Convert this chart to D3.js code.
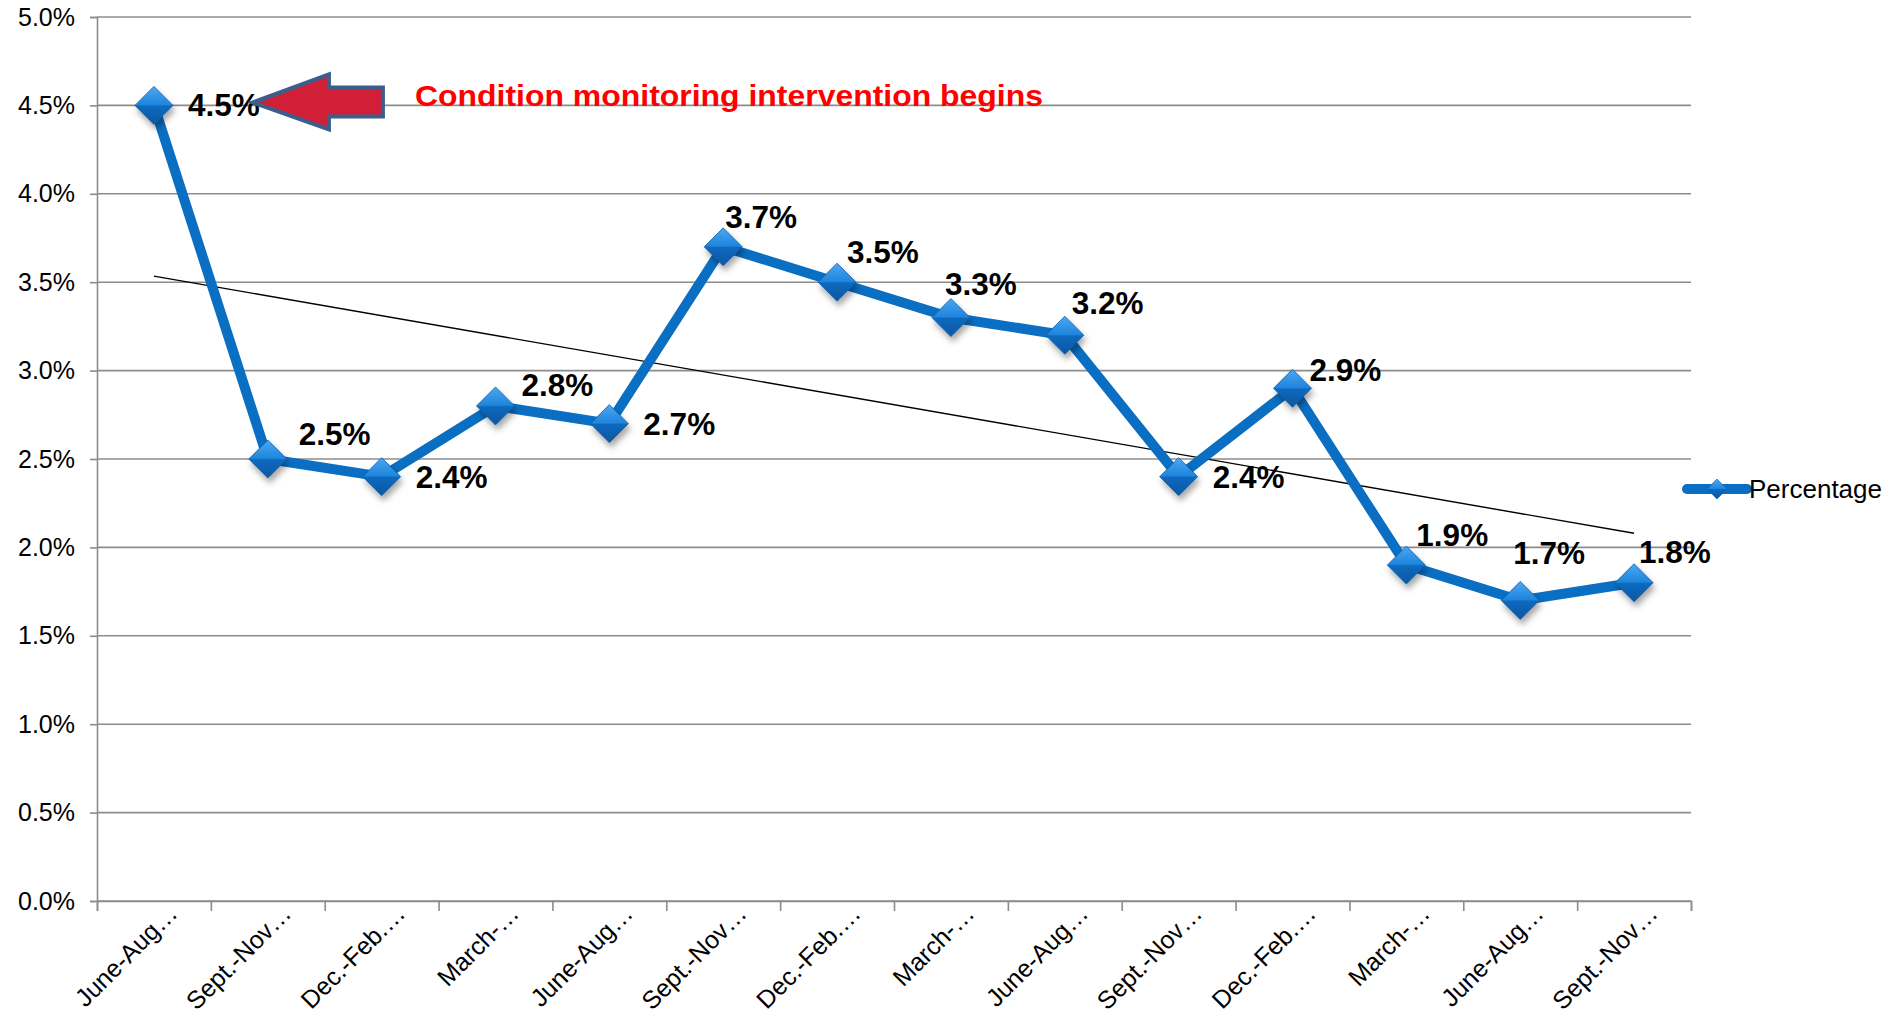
<!DOCTYPE html>
<html>
<head>
<meta charset="utf-8">
<script src="https://cdn.jsdelivr.net/npm/d3@7/dist/d3.min.js"></script>
<style>
  html, body { margin: 0; padding: 0; background: #fff; }
  svg { display: block; }
  text { font-family: "Liberation Sans", Arial, sans-serif; }
</style>
</head>
<body>
<svg id="chart" width="1889" height="1017"></svg>
<script>
// ---------- data ----------
const categories = [
  "June-Aug…", "Sept.-Nov…", "Dec.-Feb.…", "March-…",
  "June-Aug…", "Sept.-Nov…", "Dec.-Feb.…", "March-…",
  "June-Aug…", "Sept.-Nov…", "Dec.-Feb.…", "March-…",
  "June-Aug…", "Sept.-Nov…"
];
const percentage = [4.5, 2.5, 2.4, 2.8, 2.7, 3.7, 3.5, 3.3, 3.2, 2.4, 2.9, 1.9, 1.7, 1.8];
const yTicks = [0, 0.5, 1.0, 1.5, 2.0, 2.5, 3.0, 3.5, 4.0, 4.5, 5.0];
const seriesName = "Percentage";
const annotationText = "Condition monitoring intervention begins";
const annotationValue = 4.5;

// label nudges (layout only, in px): [dx, dy] from the point
const labelNudge = [
  [34, 11], [31, -14], [34, 11], [26, -10], [34, 11], [2, -19], [10, -19],
  [-6, -23], [7, -21], [34, 11], [17, -7], [10, -19], [-7, -36], [5, -20]
];

// ---------- layout ----------
const svg = d3.select("#chart");
const plot = { left: 97, right: 1691, top: 17, bottom: 901 };
const gridColor = "#8c8c8c";
const lineColor = "#0a6fc2";

const xEdge = d3.scaleLinear().domain([0, categories.length]).range([plot.left, plot.right]);
const xBand = d3.scaleBand().domain(d3.range(categories.length)).range([plot.left, plot.right]);
const xc = i => xBand(i) + xBand.bandwidth() / 2;
const y = d3.scaleLinear().domain([0, 5]).range([plot.bottom, plot.top]);

// defs: gradient + shadow
const defs = svg.append("defs");
const grad = defs.append("linearGradient").attr("id", "dgrad")
  .attr("x1", "0").attr("y1", "0").attr("x2", "0").attr("y2", "1");
grad.append("stop").attr("offset", "0%").attr("stop-color", "#4ba8f2");
grad.append("stop").attr("offset", "48%").attr("stop-color", "#1f85dc");
grad.append("stop").attr("offset", "52%").attr("stop-color", "#0b69bf");
grad.append("stop").attr("offset", "100%").attr("stop-color", "#0a57a0");
const sh = defs.append("filter").attr("id", "shadow")
  .attr("x", "-50%").attr("y", "-50%").attr("width", "200%").attr("height", "200%");
sh.append("feDropShadow").attr("dx", 2).attr("dy", 5).attr("stdDeviation", 3)
  .attr("flood-color", "#000").attr("flood-opacity", 0.35);

// gridlines
svg.append("g").selectAll("line").data(yTicks).join("line")
  .attr("x1", plot.left).attr("x2", plot.right)
  .attr("y1", d => y(d)).attr("y2", d => y(d))
  .attr("stroke", gridColor).attr("stroke-width", 1.6);

// y axis
const yAxis = svg.append("g").attr("transform", `translate(${plot.left},0)`)
  .call(d3.axisLeft(y).tickValues(yTicks).tickSize(7).tickPadding(15)
    .tickFormat(d => d.toFixed(1) + "%"));
yAxis.select(".domain").attr("stroke", gridColor).attr("stroke-width", 1.6);
yAxis.selectAll(".tick line").attr("stroke", gridColor).attr("stroke-width", 1.6);
yAxis.selectAll(".tick text").attr("font-size", 25).attr("fill", "#000")
  .attr("font-family", "Liberation Sans, Arial, sans-serif");

// x axis ticks at category edges
const xAxis = svg.append("g").attr("transform", `translate(0,${plot.bottom})`)
  .call(d3.axisBottom(xEdge).tickValues(d3.range(categories.length + 1)).tickSize(10).tickFormat(""));
xAxis.select(".domain").attr("stroke", gridColor).attr("stroke-width", 1.6);
xAxis.selectAll(".tick line").attr("stroke", gridColor).attr("stroke-width", 1.6);

// x labels (rotated)
const xLab = svg.append("g").attr("transform", `translate(0,${plot.bottom})`)
  .call(d3.axisBottom(xBand).tickSize(0).tickFormat(i => categories[i]));
xLab.select(".domain").remove();
xLab.selectAll(".tick text")
  .attr("font-size", 25).attr("fill", "#000")
  .attr("font-family", "Liberation Sans, Arial, sans-serif")
  .attr("text-anchor", "end")
  .attr("dy", null).attr("y", null)
  .attr("transform", "translate(25,14) rotate(-45)");

// trendline (linear least squares of the series)
const n = percentage.length;
const xs = d3.range(1, n + 1);
const mx = d3.mean(xs), my = d3.mean(percentage);
const slope = d3.sum(xs, (xv, i) => (xv - mx) * (percentage[i] - my)) / d3.sum(xs, xv => (xv - mx) ** 2);
const icpt = my - slope * mx;
svg.append("line")
  .attr("x1", xc(0)).attr("y1", y(icpt + slope * 1))
  .attr("x2", xc(n - 1)).attr("y2", y(icpt + slope * n))
  .attr("stroke", "#000").attr("stroke-width", 1.4);

// series line
svg.append("path").datum(percentage)
  .attr("d", d3.line().x((d, i) => xc(i)).y(d => y(d)))
  .attr("fill", "none").attr("stroke", lineColor).attr("stroke-width", 10)
  .attr("stroke-linejoin", "round");

// markers
const dsize = 19;
const diamond = (cx, cy, s) => `M${cx},${cy - s}L${cx + s},${cy}L${cx},${cy + s}L${cx - s},${cy}Z`;
svg.append("g").selectAll("path").data(percentage).join("path")
  .attr("d", (d, i) => diamond(xc(i), y(d), dsize))
  .attr("fill", "url(#dgrad)").attr("stroke", "#0a5aa8").attr("stroke-width", 0.8)
  .attr("filter", "url(#shadow)");

// data labels
svg.append("g").selectAll("text").data(percentage).join("text")
  .attr("x", (d, i) => xc(i) + labelNudge[i][0])
  .attr("y", (d, i) => y(d) + labelNudge[i][1])
  .attr("font-size", 31.5).attr("font-weight", "bold").attr("fill", "#000")
  .text(d => d.toFixed(1) + "%");

// annotation arrow (block arrow pointing left)
const ay = y(annotationValue) - 3;
const tipX = xc(0) + 99;
const arrowPts = [
  [tipX, ay], [tipX + 76, ay - 28], [tipX + 76, ay - 15], [tipX + 130, ay - 15],
  [tipX + 130, ay + 14], [tipX + 76, ay + 14], [tipX + 76, ay + 27]
];
svg.append("polygon")
  .attr("points", arrowPts.map(p => p.join(",")).join(" "))
  .attr("fill", "#d21f38").attr("stroke", "#3b5e8c").attr("stroke-width", 4)
  .attr("stroke-linejoin", "miter");

svg.append("text")
  .attr("x", 415).attr("y", y(annotationValue) + 1)
  .attr("font-size", 30).attr("font-weight", "bold").attr("fill", "#ff0000")
  .attr("textLength", 628).attr("lengthAdjust", "spacingAndGlyphs")
  .text(annotationText);

// legend
const lg = svg.append("g").attr("transform", "translate(1687,489)");
lg.append("line").attr("x1", 0).attr("x2", 60).attr("y1", 0).attr("y2", 0)
  .attr("stroke", lineColor).attr("stroke-width", 10).attr("stroke-linecap", "round");
lg.append("path").attr("d", diamond(30, 0, 10)).attr("fill", "url(#dgrad)")
  .attr("stroke", "#0a5aa8").attr("stroke-width", 0.6);
lg.append("text").attr("x", 62).attr("y", 9).attr("font-size", 26).attr("fill", "#000")
  .text(seriesName);
</script>
</body>
</html>
